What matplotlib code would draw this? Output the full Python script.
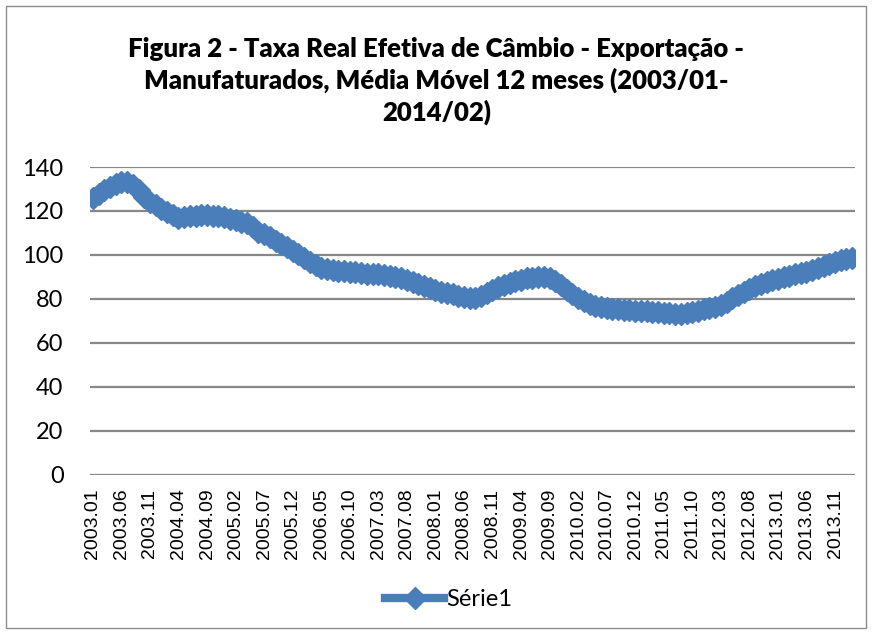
import matplotlib
matplotlib.use("Agg")
import matplotlib.pyplot as plt
from matplotlib.patches import Rectangle

title = "Figura 2 - Taxa Real Efetiva de Câmbio - Exportação -\nManufaturados, Média Móvel 12 meses (2003/01-\n2014/02)"
series_name = "Série1"

years = list(range(2003, 2015))
months = [f"{y}.{m:02d}" for y in years for m in range(1, 13)][:134]  # 2003.01 .. 2014.02

values = [
    126.0, 127.7, 129.5, 131.0, 132.3, 133.0, 133.2, 132.0, 129.5, 126.5,
    124.2, 122.5, 120.8, 119.4, 118.0, 117.0, 117.2, 117.6, 117.9, 118.0,
    118.0, 117.9, 117.7, 117.3, 116.5, 115.8, 115.0, 114.5, 112.5, 110.5,
    109.5, 108.2, 106.5, 104.8, 103.4, 101.8, 100.3, 98.6, 97.0, 95.5,
    94.2, 93.6, 93.2, 92.8, 92.5, 92.2, 92.0, 91.7, 91.5, 91.3,
    91.1, 91.0, 90.6, 90.0, 89.3, 88.5, 87.6, 86.8, 85.9, 85.1,
    84.2, 83.3, 82.6, 82.0, 81.4, 80.8, 80.4, 80.2, 81.3, 82.8,
    84.2, 85.3, 86.5, 87.4, 88.2, 88.8, 89.3, 89.7, 89.9, 89.9,
    89.4, 88.0, 86.2, 84.2, 82.3, 80.6, 79.0, 77.6, 76.7, 76.2,
    75.8, 75.5, 75.2, 75.0, 74.9, 74.7, 74.5, 74.3, 74.1, 73.9,
    73.7, 73.5, 73.3, 73.2, 73.4, 73.9, 74.5, 75.2, 75.9, 76.5,
    77.3, 78.6, 80.2, 81.7, 83.3, 84.7, 85.9, 86.8, 87.6, 88.4,
    89.1, 89.8, 90.5, 91.1, 91.7, 92.4, 93.2, 94.0, 94.9, 95.8,
    96.8, 97.5, 98.0, 98.4,
]

tick_labels = ["2003.01", "2003.06", "2003.11", "2004.04", "2004.09", "2005.02",
               "2005.07", "2005.12", "2006.05", "2006.10", "2007.03", "2007.08",
               "2008.01", "2008.06", "2008.11", "2009.04", "2009.09", "2010.02",
               "2010.07", "2010.12", "2011.05", "2011.10", "2012.03", "2012.08",
               "2013.01", "2013.06", "2013.11"]
y_ticks = [0, 20, 40, 60, 80, 100, 120, 140]

blue = "#4A7EBB"
grid_gray = "#878787"

fig = plt.figure(figsize=(8.73, 6.34), dpi=100)
fig.patch.set_facecolor("white")
fig.patches.append(Rectangle((6 / 873, 6 / 634), 860 / 873, 622 / 634,
                             transform=fig.transFigure, fill=False,
                             edgecolor="#8c8c8c", linewidth=1.0))

ax = fig.add_axes([90 / 873, 1 - 474.7 / 634, 765 / 873, (474.7 - 167) / 634])

x = list(range(len(months)))
ax.plot(x, values, color=blue, linewidth=6, marker="D", markersize=11,
        markerfacecolor=blue, markeredgecolor=blue, markeredgewidth=1,
        label=series_name, zorder=3)

ax.set_xlim(-0.5, len(months) - 0.5)
ax.set_ylim(0, 140)
ax.set_yticks(y_ticks)
ax.set_yticklabels([str(v) for v in y_ticks], fontfamily="Lato", fontsize=17)
tick_pos = [months.index(t) for t in tick_labels]
ax.set_xticks(tick_pos)
ax.set_xticklabels(tick_labels, rotation=90, fontfamily="Liberation Sans",
                   fontsize=14, va="top")
ax.tick_params(axis="y", length=0, pad=19)
ax.tick_params(axis="x", length=0, pad=10)

for v in y_ticks:
    ax.axhline(v, color=grid_gray, linewidth=1.6, zorder=1)
for s in ax.spines.values():
    s.set_visible(False)

fig.text(0.5, 1 - 81 / 634, title, ha="center", va="center",
         fontfamily="Lato", fontweight="heavy", fontsize=18.5,
         linespacing=1.32)

leg = fig.legend(handles=ax.get_lines(), labels=[series_name],
                 loc="center", bbox_to_anchor=(449 / 873, 1 - 600 / 634),
                 frameon=False, prop={"family": "Lato", "size": 17},
                 handlelength=2.5, handletextpad=0.1, markerscale=1.0)

fig.savefig("out.png", dpi=100, facecolor="white")
